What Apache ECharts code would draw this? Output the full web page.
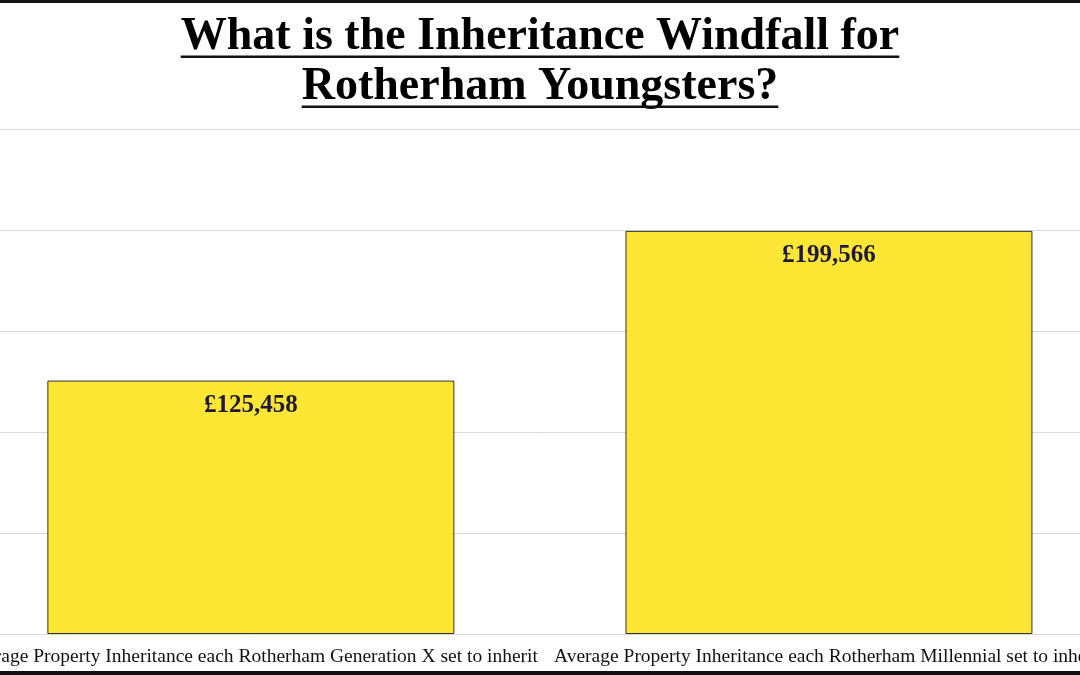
<!DOCTYPE html>
<html><head><meta charset="utf-8">
<script src="https://cdn.jsdelivr.net/npm/echarts@6/dist/echarts.min.js"></script>
<style>html,body{margin:0;padding:0;background:#fff;overflow:hidden;width:1080px;height:675px;position:relative}
#c{position:absolute;left:-39px;top:0;width:1157px;height:675px}</style>
</head><body><div id="c"></div>
<script>
const titleLines = ['What is the Inheritance Windfall for', 'Rotherham Youngsters?'];
const categories = ['Average Property Inheritance each Rotherham Generation X set to inherit', 'Average Property Inheritance each Rotherham Millennial set to inherit'];
const values = [125458, 199566];
const yTicks = [0, 50000, 100000, 150000, 200000, 250000];

const OFF = 39; // container offset
const CX = 540 + OFF;
const titleFont = 'bold 46px "Liberation Serif"';
const cnv = document.createElement('canvas').getContext('2d');
cnv.font = titleFont;
const baseY = [52, 102];
const ASC = 38;
const graphics = [];
titleLines.forEach((t, i) => {
  const w = cnv.measureText(t).width;
  graphics.push({type:'text', x: CX, y: baseY[i]-ASC, style:{text:t, font: titleFont, fill:'#000', align:'center', verticalAlign:'top'}});
  graphics.push({type:'rect', shape:{x:CX-w/2, y:baseY[i]+3.5, width:w, height:2.5}, style:{fill:'#111'}});
});
graphics.push({type:'rect', shape:{x:0,y:0,width:1157,height:3}, style:{fill:'#111'}});
graphics.push({type:'rect', shape:{x:0,y:671,width:1157,height:4}, style:{fill:'#111'}});

const chart = echarts.init(document.getElementById('c'));
chart.setOption({
  animation:false,
  backgroundColor:'#fff',
  graphic: graphics,
  grid:{left:0, right:0, top:129, bottom:41, containLabel:false},
  xAxis:{type:'category', data:categories,
    axisLine:{lineStyle:{color:'#d9d9d9'}}, axisTick:{show:false},
    axisLabel:{color:'#111', fontFamily:'Liberation Serif', fontSize:19.5, margin:13, interval:0}},
  yAxis:{type:'value', min:yTicks[0], max:yTicks[yTicks.length-1], interval:50000,
    axisLabel:{show:false}, axisLine:{show:false}, axisTick:{show:false},
    splitLine:{lineStyle:{color:'#d9d9d9', width:1}}},
  series:[{type:'bar', data:values, barWidth:'70.4%',
    itemStyle:{color:'#FDE634', borderColor:'#333', borderWidth:1},
    label:{show:true, position:'insideTop', distance:12, color:'#1f1a3a',
      fontFamily:'Liberation Serif', fontWeight:'bold', fontSize:25,
      formatter: p => '£' + p.value.toLocaleString('en-GB')}}]
});
</script></body></html>
